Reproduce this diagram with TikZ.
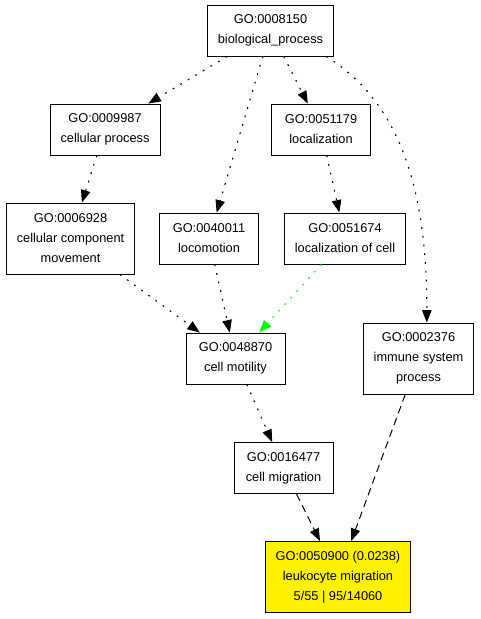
\documentclass[tikz,border=0pt]{standalone}
\usepackage{fontspec}
\setmainfont{Liberation Sans}
\usetikzlibrary{arrows.meta}
\begin{document}
\begin{tikzpicture}[
    x=1pt, y=-1pt,
    term/.style={
      draw,
      line width=0.9pt,
      align=center,
      font=\fontsize{12.8}{20}\selectfont,
      inner xsep=10.5pt,
      inner ysep=2pt,
      minimum width=99pt,
      minimum height=51pt
    },
    tall/.style={minimum height=71pt},
    isa/.style={
      line width=1.1pt,
      dash pattern=on 1.8pt off 7pt,
      -{Triangle[length=12.5pt,width=9.5pt]}
    },
    partof/.style={
      line width=1pt,
      dash pattern=on 7.5pt off 5pt,
      -{Triangle[length=12.5pt,width=9.5pt]}
    }
  ]
  \useasboundingbox (0,0) rectangle (481,619);

  \node[term] (bioproc) at (270.5,30.5) {GO:0008150\\biological\_process};
  \node[term] (cellproc) at (105,129.5) {GO:0009987\\cellular process};
  \node[term] (localiz) at (321,129.5) {GO:0051179\\localization};
  \node[term, tall] (ccmove) at (70.5,238.5) {GO:0006928\\cellular component\\movement};
  \node[term] (locomot) at (209,238.5) {GO:0040011\\locomotion};
  \node[term] (loccell) at (345,238.5) {GO:0051674\\localization of cell};
  \node[term] (motility) at (235.5,358.5) {GO:0048870\\cell motility};
  \node[term, tall] (immune) at (418.5,358.5) {GO:0002376\\immune system\\process};
  \node[term] (migration) at (283.5,468) {GO:0016477\\cell migration};
  \node[term, tall, fill=yellow] (leuko) at (338,577)
    {GO:0050900 (0.0238)\\leukocyte migration\\5/55 | 95/14060};

  \draw[isa] (bioproc) -- (cellproc);
  \draw[isa] (bioproc) -- (locomot);
  \draw[isa] (bioproc) -- (localiz);
  \draw[isa] (bioproc.-25) .. controls (405,105) and (427,200) .. (immune.77);
  \draw[isa] (cellproc) -- (ccmove);
  \draw[isa] (localiz) -- (loccell);
  \draw[isa] (ccmove) -- (motility);
  \draw[isa] (locomot) -- (motility);
  \draw[isa, green] (loccell) -- (motility);
  \draw[isa] (motility) -- (migration);
  \draw[partof] (migration) -- (leuko);
  \draw[partof] (immune) -- (leuko);
\end{tikzpicture}
\end{document}
